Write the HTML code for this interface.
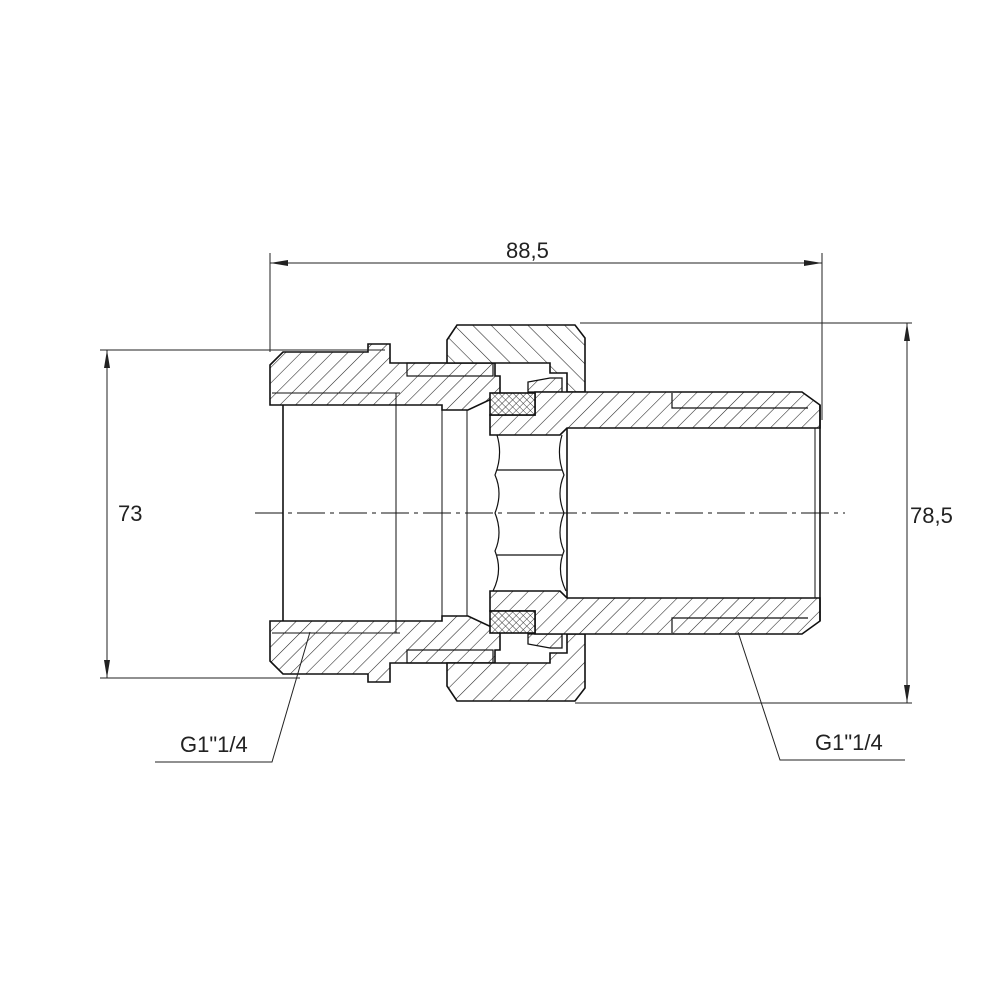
<!DOCTYPE html>
<html><head><meta charset="utf-8"><style>html,body{margin:0;padding:0;background:#fff}svg{display:block}</style></head>
<body>
<svg width="1000" height="1000" viewBox="0 0 1000 1000" xmlns="http://www.w3.org/2000/svg">
<defs>
<pattern id="hf" patternUnits="userSpaceOnUse" width="11" height="11" patternTransform="rotate(45)">
<rect width="11" height="11" fill="#fff"/><line x1="0" y1="0" x2="0" y2="11" stroke="#222" stroke-width="1.1"/></pattern>
<pattern id="hb" patternUnits="userSpaceOnUse" width="13" height="13" patternTransform="rotate(-45)">
<rect width="13" height="13" fill="#fff"/><line x1="0" y1="0" x2="0" y2="13" stroke="#222" stroke-width="1.1"/></pattern>
<pattern id="hb2" patternUnits="userSpaceOnUse" width="11" height="11" patternTransform="rotate(-45)">
<rect width="11" height="11" fill="#fff"/><line x1="0" y1="0" x2="0" y2="11" stroke="#222" stroke-width="1.1"/></pattern>
<pattern id="hx" patternUnits="userSpaceOnUse" width="5" height="5" patternTransform="rotate(45)">
<rect width="5" height="5" fill="#fff"/><line x1="0" y1="0" x2="0" y2="5" stroke="#222" stroke-width="0.9"/><line x1="0" y1="0" x2="5" y2="0" stroke="#222" stroke-width="0.9"/></pattern>
</defs>
<g id="top">
<polygon points="270,365 283,352 368,352 368,344 390,344 390,363 495,363 495,376 500,376 500,395 468,410 442,410 442,405 283,405 270,405" fill="url(#hf)" stroke="#111" stroke-width="1.6"/>
<polyline points="272,393 400,393" fill="none" stroke="#111" stroke-width="1"/>
<rect x="407" y="363" width="86" height="13" fill="none" stroke="#111" stroke-width="1.2"/>
<polygon points="447,340 457,325 575,325 585,338 585,392 567,392 567,373 550,373 550,363 447,363" fill="url(#hb)" stroke="#111" stroke-width="1.6"/>
<polygon points="528,392 528,382 550,378 562,378 562,392" fill="url(#hf)" stroke="#111" stroke-width="1.3"/>
<polygon points="490,415 535,415 535,392 802,392 820,405 820,428 567,428 560,435 490,435" fill="url(#hf)" stroke="#111" stroke-width="1.6"/>
<rect x="490" y="393" width="45" height="22" fill="url(#hx)" stroke="#111" stroke-width="1.6"/>
<polyline points="672,393 672,408 808,408" fill="none" stroke="#111" stroke-width="1.2"/>
</g>
<g transform="translate(0,1026) scale(1,-1)">
<polygon points="270,365 283,352 368,352 368,344 390,344 390,363 495,363 495,376 500,376 500,395 468,410 442,410 442,405 283,405 270,405" fill="url(#hb2)" stroke="#111" stroke-width="1.6"/>
<polyline points="272,393 400,393" fill="none" stroke="#111" stroke-width="1"/>
<rect x="407" y="363" width="86" height="13" fill="none" stroke="#111" stroke-width="1.2"/>
<polygon points="447,340 457,325 575,325 585,338 585,392 567,392 567,373 550,373 550,363 447,363" fill="url(#hb)" stroke="#111" stroke-width="1.6"/>
<polygon points="528,392 528,382 550,378 562,378 562,392" fill="url(#hb2)" stroke="#111" stroke-width="1.3"/>
<polygon points="490,415 535,415 535,392 802,392 820,405 820,428 567,428 560,435 490,435" fill="url(#hb2)" stroke="#111" stroke-width="1.6"/>
<rect x="490" y="393" width="45" height="22" fill="url(#hx)" stroke="#111" stroke-width="1.6"/>
<polyline points="672,393 672,408 808,408" fill="none" stroke="#111" stroke-width="1.2"/>
</g>
<g stroke="#111" fill="none">
<line x1="283" y1="405" x2="283" y2="621" stroke-width="1.6"/>
<line x1="396" y1="393" x2="396" y2="633" stroke-width="1"/>
<line x1="442" y1="405" x2="442" y2="621" stroke-width="1"/>
<line x1="467" y1="410" x2="467" y2="616" stroke-width="1"/>
<line x1="567" y1="428" x2="567" y2="598" stroke-width="1.6"/>
<line x1="815" y1="428" x2="815" y2="598" stroke-width="1"/>
<line x1="820" y1="405" x2="820" y2="621" stroke-width="1.6"/>
<path d="M497,435 q6,20 -2,40 q8,18 0,38 q8,20 0,38 q8,20 -2,40" stroke-width="1.2"/>
<path d="M562,435 q-6,20 2,40 q-8,18 0,38 q-8,20 0,38 q-8,20 2,40" stroke-width="1.2"/>
<line x1="497" y1="470" x2="562" y2="470" stroke-width="1.2"/>
<line x1="497" y1="555" x2="562" y2="555" stroke-width="1.2"/>
<line x1="255" y1="513" x2="845" y2="513" stroke-width="0.9" stroke-dasharray="28,5,4,5"/>
</g>
<g stroke="#222" stroke-width="1" fill="none">
<line x1="270" y1="253" x2="270" y2="352"/>
<line x1="822" y1="253" x2="822" y2="420"/>
<line x1="270" y1="263" x2="822" y2="263"/>
<line x1="100" y1="350" x2="385" y2="350"/>
<line x1="100" y1="678" x2="300" y2="678"/>
<line x1="107" y1="350" x2="107" y2="678"/>
<line x1="580" y1="323" x2="912" y2="323"/>
<line x1="575" y1="703" x2="912" y2="703"/>
<line x1="907" y1="323" x2="907" y2="703"/>
<polyline points="310,632 272,762 155,762"/>
<polyline points="738,632 780,760 905,760"/>
</g>
<g fill="#222">
<polygon points="270,263 288,260 288,266"/><polygon points="822,263 804,260 804,266"/>
<polygon points="107,350 104,368 110,368"/><polygon points="107,678 104,660 110,660"/>
<polygon points="907,323 904,341 910,341"/><polygon points="907,703 904,685 910,685"/>
</g>
<g font-family="Liberation Sans, sans-serif" font-size="22" fill="#222">
<text x="506" y="258">88,5</text>
<text x="118" y="521">73</text>
<text x="910" y="523">78,5</text>
<text x="180" y="752">G1"1/4</text>
<text x="815" y="750">G1"1/4</text>
</g>
</svg>
</body></html>
